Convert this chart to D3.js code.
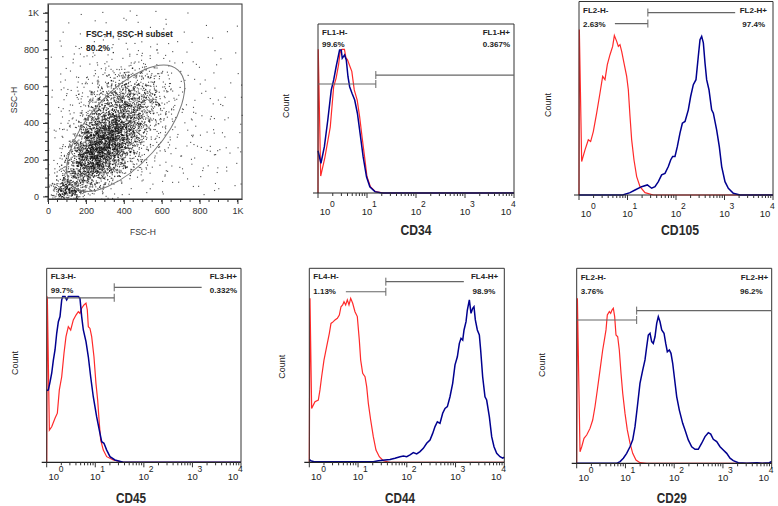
<!DOCTYPE html>
<html><head><meta charset="utf-8">
<script src="https://cdn.jsdelivr.net/npm/d3@7"></script>
<style>body{margin:0;background:#fff} svg{display:block}</style>
</head><body>
<svg id="c" width="778" height="506"></svg>
<script>
// ---------------- DATA ----------------
// Scatter (FSC-H vs SSC-H): event counts in 20x20 bins of 51.2 channels, rows from SSC top (1024) down to 0
const scatterBinWidth = 51.2;
const scatterDensity = [
 [0,0,0,1,0,1,0,0,1,1,0,1,0,0,1,0,0,0,0,0],
 [0,0,1,0,1,0,1,1,1,1,0,1,1,0,0,1,0,0,0,1],
 [0,1,0,1,1,1,1,1,1,1,1,1,0,1,0,0,1,0,1,0],
 [1,0,1,1,1,1,1,1,1,2,1,1,1,1,0,1,0,1,0,0],
 [0,1,1,1,1,1,2,2,2,2,2,1,1,1,1,0,1,0,0,1],
 [1,1,2,2,2,2,3,3,4,4,3,2,2,1,1,1,1,0,1,0],
 [0,1,2,2,3,4,6,8,10,9,7,4,2,1,1,1,0,1,0,1],
 [1,1,2,3,5,8,12,16,20,17,13,7,3,2,1,1,1,0,1,0],
 [1,2,2,4,8,14,22,30,34,28,20,11,5,2,1,1,1,1,0,1],
 [1,2,3,6,12,22,34,44,46,38,24,12,6,3,2,1,1,1,1,1],
 [1,2,4,9,20,36,50,60,56,40,24,12,6,3,2,1,1,1,1,0],
 [1,3,5,14,34,56,72,76,62,40,20,10,5,2,2,1,1,1,1,1],
 [1,3,7,22,56,84,98,90,62,36,15,7,3,2,2,1,2,1,1,1],
 [1,4,11,40,84,112,116,90,54,26,11,5,3,2,2,2,1,1,1,1],
 [1,5,20,60,112,128,112,74,38,15,7,4,3,2,2,2,1,2,1,1],
 [1,8,30,80,124,124,92,54,26,10,5,3,2,2,2,1,2,1,1,1],
 [1,14,40,88,112,96,64,34,14,6,3,2,2,1,2,1,1,1,1,1],
 [3,22,42,66,68,48,28,14,6,3,2,2,1,1,1,1,1,1,1,0],
 [6,50,50,38,26,16,8,4,2,2,1,1,1,1,0,1,1,1,0,1],
 [12,110,80,28,12,6,3,2,1,1,1,1,1,0,1,1,0,1,1,0]
];
const scatterTicks = [0,200,400,600,800,1000];
const scatterTickLabels = ["0","200","400","600","800","1K"];
const gateEllipse = {cx:410, cy:371, rMajor:413, rMinor:191, angle:48};
const scatterGateName = "FSC-H, SSC-H subset";
const scatterGatePct = "80.2%";

// Histograms: [log10 fluorescence, count as % of scale]
const markers = ["CD34","CD105","CD45","CD44","CD29"];
const channels = ["FL1-H","FL2-H","FL3-H","FL4-H","FL2-H"];
const negPct = ["99.6%","2.63%","99.7%","1.13%","3.76%"];
const posPct = ["0.367%","97.4%","0.332%","98.9%","96.2%"];
const gateThreshold = [1.18,1.42,1.39,1.57,1.23];
const decadeTicks = [0,1,2,3,4];

const cd34Control = [[0,0],[0.005,85],[0.055,10],[0.14,21],[0.25,39],[0.32,63],[0.37,68],[0.42,76],[0.45,83],[0.49,85],[0.54,85],[0.57,80],[0.6,79],[0.65,75],[0.69,72],[0.74,61],[0.8,55],[0.85,45],[0.9,33],[0.95,21.5],[1.0,9.6],[1.07,3.7],[1.17,0.8],[1.35,0],[4,0]];
const cd34Sample = [[0,25],[0.06,17.6],[0.13,27.4],[0.2,43.2],[0.27,60.9],[0.32,66.9],[0.37,74.7],[0.405,79.7],[0.44,84.6],[0.474,84.6],[0.495,79.7],[0.543,81.7],[0.577,78.7],[0.612,68.8],[0.646,62.9],[0.694,59],[0.749,55],[0.804,47.2],[0.859,35.3],[0.921,21.5],[0.99,9.6],[1.058,3.7],[1.161,0.8],[1.3,0],[4,0]];

const cd105Control = [[0,0],[0.007,85.5],[0.055,17.3],[0.124,23.3],[0.192,28.5],[0.24,27.6],[0.295,32.8],[0.364,42.3],[0.433,52.7],[0.488,61.3],[0.536,59.6],[0.584,67.4],[0.639,72.5],[0.694,76.8],[0.729,82.4],[0.777,79.4],[0.811,76.8],[0.845,77.7],[0.88,74.2],[0.928,68.2],[0.983,61.3],[1.017,54.4],[1.052,40.6],[1.086,28.5],[1.134,18.1],[1.189,9.5],[1.258,4.3],[1.361,1.2],[1.533,0],[4,0]];
const cd105Sample = [[0,0],[0.9,0],[1.052,1.2],[1.155,2.6],[1.292,4.3],[1.409,5.2],[1.498,3.5],[1.567,4.3],[1.636,6.9],[1.704,10.4],[1.773,11.2],[1.842,14.7],[1.89,18.1],[1.931,19.9],[1.979,19.9],[2.027,25],[2.082,32],[2.131,37.1],[2.186,38],[2.254,44],[2.302,50.9],[2.357,57],[2.412,59.6],[2.46,71.7],[2.495,80.3],[2.529,82],[2.564,78.6],[2.598,68.2],[2.632,59.6],[2.68,54.4],[2.735,44],[2.77,42.3],[2.838,33.7],[2.893,25],[2.942,14.7],[3.01,6.9],[3.079,3.5],[3.182,0.9],[3.32,0],[4,0]];

const cd45Control = [[0,0],[0.013,85.4],[0.055,16.6],[0.103,18.3],[0.171,22.7],[0.219,25.3],[0.26,37.3],[0.309,44.1],[0.356,56.2],[0.397,64.8],[0.445,69.9],[0.494,68.2],[0.548,73.4],[0.603,75.9],[0.651,77.6],[0.685,76.8],[0.72,79.4],[0.767,81.1],[0.809,82],[0.836,78.5],[0.857,69.9],[0.891,69],[0.926,64.8],[0.973,54.4],[1.014,40.7],[1.049,32.1],[1.083,20.1],[1.111,11.5],[1.165,6.3],[1.235,2.9],[1.37,1.2],[1.576,0],[4,0]];
const cd45Sample = [[0,37],[0.034,37.3],[0.069,41.5],[0.103,45.9],[0.137,52.7],[0.171,57.9],[0.206,66.5],[0.24,72.5],[0.274,75.1],[0.309,83.7],[0.329,85.4],[0.377,85.4],[0.411,83.7],[0.445,85.4],[0.514,85.4],[0.651,85.4],[0.685,84.5],[0.72,75.1],[0.754,68.2],[0.809,62.2],[0.857,54.4],[0.905,44.1],[0.959,33.8],[1.028,23.5],[1.083,16.6],[1.132,10.6],[1.179,9.8],[1.235,6.3],[1.303,2.9],[1.405,1.2],[1.576,0],[4,0]];

const cd44Control = [[0,0],[0.014,84.5],[0.048,27.8],[0.117,31.2],[0.185,32.1],[0.219,37.3],[0.253,44.1],[0.301,52.7],[0.356,59.6],[0.411,66.5],[0.445,71.6],[0.493,72.5],[0.527,73.4],[0.575,74.2],[0.616,75.9],[0.65,80.2],[0.684,81.1],[0.712,82.8],[0.746,81.1],[0.78,83.7],[0.814,81.1],[0.849,84.5],[0.89,82],[0.937,77.6],[0.985,75.1],[1.026,63],[1.054,52.7],[1.095,45.9],[1.143,44.1],[1.177,39],[1.211,30.4],[1.259,21.8],[1.313,13.2],[1.368,6.3],[1.436,2.9],[1.518,0.8],[1.655,0],[4,0]];
const cd44Sample = [[0,1.5],[0.03,0.8],[0.1,0.3],[1.313,0.3],[1.416,0.8],[1.553,1.2],[1.655,1.5],[1.758,2.1],[1.861,2.9],[1.929,3.2],[1.998,2.9],[2.066,3.8],[2.134,5],[2.203,4.3],[2.271,5.5],[2.339,7.2],[2.408,9.8],[2.476,11.5],[2.531,14.9],[2.579,18.4],[2.627,20.9],[2.681,20.1],[2.736,25.3],[2.784,27.8],[2.832,28.7],[2.886,33.8],[2.941,40.7],[2.989,50.2],[3.037,54.4],[3.078,61.3],[3.112,63.9],[3.147,63],[3.174,68.2],[3.215,72.5],[3.242,78.5],[3.283,83.7],[3.317,76.8],[3.352,79.4],[3.378,80.2],[3.406,73.4],[3.447,68.2],[3.488,65.6],[3.515,57.9],[3.556,44.1],[3.604,33.8],[3.638,32.1],[3.693,23.5],[3.741,13.2],[3.789,8],[3.844,4.6],[3.912,2.9],[3.967,2.1],[4,2.6]];

const cd29Control = [[0,0],[0.014,84.6],[0.068,5.9],[0.103,8.5],[0.15,12.8],[0.205,14.5],[0.273,17.9],[0.328,22.2],[0.375,29],[0.423,37.6],[0.478,47.8],[0.533,58.1],[0.567,63.2],[0.601,68.4],[0.628,76.1],[0.669,77.8],[0.697,76.9],[0.724,78.6],[0.751,79.5],[0.779,75.2],[0.806,65.8],[0.841,64.9],[0.874,58.1],[0.909,46.2],[0.944,35.9],[0.991,25.6],[1.038,17.1],[1.093,10.3],[1.149,5.1],[1.216,1.7],[1.298,0.3],[1.436,0],[4,0]];
const cd29Sample = [[0,0],[0.82,0],[0.889,0.9],[0.957,2.6],[1.025,5.1],[1.093,8.5],[1.149,12],[1.196,18.8],[1.244,29],[1.298,41],[1.354,47.8],[1.401,53],[1.436,59.8],[1.469,65.8],[1.504,66.7],[1.538,62.4],[1.571,61.5],[1.606,64.9],[1.641,71.8],[1.674,75.2],[1.709,72.6],[1.744,68.4],[1.791,66.7],[1.826,61.5],[1.859,57.2],[1.9,58.1],[1.934,56.4],[1.969,51.3],[2.002,44.4],[2.051,34.2],[2.105,27.3],[2.174,20.5],[2.222,17.1],[2.289,12],[2.359,8.5],[2.427,7.2],[2.494,7.2],[2.564,10.3],[2.632,13.7],[2.7,15.7],[2.749,15],[2.802,12.3],[2.872,11.1],[2.94,8.5],[3.007,6.8],[3.077,5.1],[3.145,2.6],[3.212,1.4],[3.315,0.3],[3.487,0],[3.7,0.3],[3.8,0],[3.95,0.3],[4,0.9]];

const controls = [cd34Control, cd105Control, cd45Control, cd44Control, cd29Control];
const samples = [cd34Sample, cd105Sample, cd45Sample, cd44Sample, cd29Sample];

// ---------------- LAYOUT ----------------
const layout = [
 {f:[318,24,514,193],  count:[289,106], label:[416,235], labW:31, lab:[0,10.5,23], rdx:[4,4],  neg:[0,64.5],   pos:[null,69.8], posEnd:4,    tickY:22},
 {f:[579,1.5,773,195], count:[551,105], label:[680,235], labW:38, lab:[0,11.5,25.5], rdx:[6,8], neg:[0.74,88.6], pos:[null,94.3], posEnd:3.22, tickY:22},
 {f:[46.7,268.3,241,462.3], count:[18,363], label:[131,503], labW:30, lab:[0,11,25], rdx:[4,4], neg:[0,84.8], pos:[null,90.2], posEnd:3.19, tickY:18},
 {f:[309.3,268.3,504.3,462.3], count:[285,366.7], label:[400,503], labW:30, lab:[0,11,26], rdx:[6,9], neg:[0.75,87.9], pos:[null,93.1], posEnd:3.17, tickY:18},
 {f:[576.7,268.3,771.7,463.3], count:[545,365], label:[671.7,503], labW:30, lab:[0,12,26], rdx:[3.5,9], neg:[0,73.5], pos:[null,78.3], posEnd:4, tickY:18}
];

const svg = d3.select("#c");
const FONT = "'Liberation Sans', Arial, sans-serif";
// deterministic in-bin placement (rendering only)
const frac = v => v - Math.floor(v);
const jit = n => frac(Math.sin(n*12.9898 + 78.233)*43758.5453);

// ---------------- SCATTER ----------------
(function(){
  const x = d3.scaleLinear().domain([0,1024]).range([48,242]);
  const y = d3.scaleLinear().domain([-14,1048]).range([199,4]);
  const g = svg.append("g");
  const pts = [];
  const nC = scatterDensity[0].length;
  scatterDensity.forEach((row,r)=>{
    const y0 = 1024 - (r+1)*scatterBinWidth;
    row.forEach((n,c)=>{
      const x0 = c*scatterBinWidth;
      for(let k=0;k<n;k++){
        const t = (r*nC+c)*331 + k*7 + 3;
        const u = (jit(t)+jit(t+1))*0.95 - 0.45;
        const v = (jit(t+2)+jit(t+3))*0.95 - 0.45;
        let px = x0+u*scatterBinWidth, py = y0+v*scatterBinWidth;
        px = Math.max(1, Math.min(1022, px)); py = Math.max(-12, Math.min(1044, py));
        pts.push([px,py]);
      }
    });
  });
  g.append("g").selectAll("rect").data(pts).join("rect")
    .attr("x",d=>x(d[0])).attr("y",d=>y(d[1])).attr("width",1.1).attr("height",1.1)
    .attr("fill","#111").attr("opacity",0.75);
  const sx = x(1)-x(0);
  g.append("ellipse").attr("cx",x(gateEllipse.cx)).attr("cy",y(gateEllipse.cy))
    .attr("rx",gateEllipse.rMajor*sx).attr("ry",gateEllipse.rMinor*sx)
    .attr("transform",`rotate(${-gateEllipse.angle},${x(gateEllipse.cx)},${y(gateEllipse.cy)})`)
    .attr("fill","none").attr("stroke","#777").attr("stroke-width",1);
  g.append("rect").attr("x",48).attr("y",4).attr("width",194).attr("height",195)
    .attr("fill","none").attr("stroke","#333").attr("stroke-width",1);
  const minor = d3.range(0,1025,50);
  const ax = g.append("g").attr("transform","translate(0,199)")
    .call(d3.axisBottom(x).tickValues(scatterTicks).tickFormat((d,i)=>scatterTickLabels[i]).tickSize(5).tickPadding(4).tickSizeOuter(0));
  g.append("g").attr("transform","translate(0,199)").selectAll("line").data(minor).join("line")
    .attr("x1",d=>x(d)).attr("x2",d=>x(d)).attr("y1",0).attr("y2",3).attr("stroke","#333");
  const ay = g.append("g").attr("transform","translate(48,0)")
    .call(d3.axisLeft(y).tickValues(scatterTicks).tickFormat((d,i)=>scatterTickLabels[i]).tickSize(5).tickPadding(4).tickSizeOuter(0));
  g.append("g").attr("transform","translate(48,0)").selectAll("line").data(minor).join("line")
    .attr("y1",d=>y(d)).attr("y2",d=>y(d)).attr("x1",0).attr("x2",-3).attr("stroke","#333");
  [ax,ay].forEach(a=>{a.select(".domain").attr("stroke","#333");
    a.selectAll("text").attr("font-family",FONT).attr("font-size",9).attr("fill","#333");
    a.selectAll(".tick line").attr("stroke","#333");});
  g.append("text").attr("x",143).attr("y",235).attr("text-anchor","middle").attr("font-family",FONT).attr("font-size",8.5).attr("fill","#333").text("FSC-H");
  g.append("text").attr("transform","translate(17,100) rotate(-90)").attr("text-anchor","middle").attr("font-family",FONT).attr("font-size",8.5).attr("fill","#333").text("SSC-H");
  g.append("text").attr("x",86).attr("y",37).attr("font-family",FONT).attr("font-size",8.5).attr("font-weight","bold").attr("fill","#222").text(scatterGateName);
  g.append("text").attr("x",86).attr("y",51).attr("font-family",FONT).attr("font-size",8.5).attr("font-weight","bold").attr("fill","#222").text(scatterGatePct);
})();

// ---------------- HISTOGRAMS ----------------
markers.forEach((m,i)=>{
  const L = layout[i];
  const [l,t,r,b] = L.f;
  const x = d3.scaleLog().domain([1,1e4]).range([l,r]);
  const y = d3.scaleLinear().domain([0,100]).range([b,t]);
  const X = d => x(Math.pow(10,d));
  const g = svg.append("g");
  const line = d3.line().x(d=>X(d[0])).y(d=>y(d[1]));
  g.append("path").attr("d",line(controls[i])).attr("fill","none").attr("stroke","#ff2a2a").attr("stroke-width",1.2);
  g.append("path").attr("d",line(samples[i])).attr("fill","none").attr("stroke","#00008f").attr("stroke-width",1.5);
  g.append("path").attr("d",`M${l},${b}V${t}H${r}V${b}`).attr("fill","none").attr("stroke","#333").attr("stroke-width",1);
  g.append("line").attr("x1",l-5).attr("x2",r).attr("y1",b).attr("y2",b).attr("stroke","#222").attr("stroke-width",1.2);
  const minors = x.ticks().filter(v=>![1,10,100,1000,10000].includes(Math.round(v)));
  g.selectAll(".mn").data(minors).join("line").attr("x1",d=>x(d)).attr("x2",d=>x(d)).attr("y1",b).attr("y2",b+3).attr("stroke","#333");
  g.selectAll(".mj").data(decadeTicks).join("line").attr("x1",d=>X(d)).attr("x2",d=>X(d)).attr("y1",b).attr("y2",b+5).attr("stroke","#333");
  decadeTicks.forEach((d,k)=>{
    let cx = X(d);
    if(k===0) cx = l+7;
    if(k===decadeTicks.length-1) cx = r-8;
    g.append("text").attr("x",cx).attr("y",b+L.tickY).attr("text-anchor","middle").attr("font-family",FONT).attr("font-size",9.5).attr("fill","#222").text("10");
    g.append("text").attr("x",cx+5).attr("y",b+L.tickY-8).attr("font-family",FONT).attr("font-size",8.5).attr("fill","#222").text(d);
  });
  g.append("text").attr("x",L.label[0]).attr("y",L.label[1]).attr("text-anchor","middle")
    .attr("font-family",FONT).attr("font-size",15).attr("font-weight","bold").attr("fill","#2a2a2a")
    .attr("textLength",L.labW).attr("lengthAdjust","spacingAndGlyphs").text(m);
  g.append("text").attr("transform",`translate(${L.count[0]},${L.count[1]}) rotate(-90)`).attr("text-anchor","middle")
    .attr("font-family",FONT).attr("font-size",9).attr("fill","#222").text("Count");
  const txt = (xx,yy,s,anchor)=>g.append("text").attr("x",xx).attr("y",yy).attr("text-anchor",anchor)
    .attr("font-family",FONT).attr("font-size",8).attr("font-weight","bold").attr("fill","#222").text(s);
  txt(l+4, t+L.lab[1], channels[i]+"-", "start");
  txt(l+4, t+L.lab[2], negPct[i], "start");
  txt(r-L.rdx[0], t+L.lab[1], channels[i]+"+", "end");
  txt(r-L.rdx[1], t+L.lab[2], posPct[i], "end");
  const gx = X(gateThreshold[i]);
  const ny = y(L.neg[1]), py = y(L.pos[1]);
  const gc = "#666";
  g.append("line").attr("x1",X(L.neg[0])).attr("x2",gx).attr("y1",ny).attr("y2",ny).attr("stroke",gc).attr("stroke-width",1.2);
  g.append("line").attr("x1",gx).attr("x2",gx).attr("y1",ny-4).attr("y2",ny+4).attr("stroke",gc);
  g.append("line").attr("x1",gx).attr("x2",X(L.posEnd)).attr("y1",py).attr("y2",py).attr("stroke",gc).attr("stroke-width",1.2);
  g.append("line").attr("x1",gx).attr("x2",gx).attr("y1",py-4).attr("y2",py+4).attr("stroke",gc);
});
</script>
</body></html>
